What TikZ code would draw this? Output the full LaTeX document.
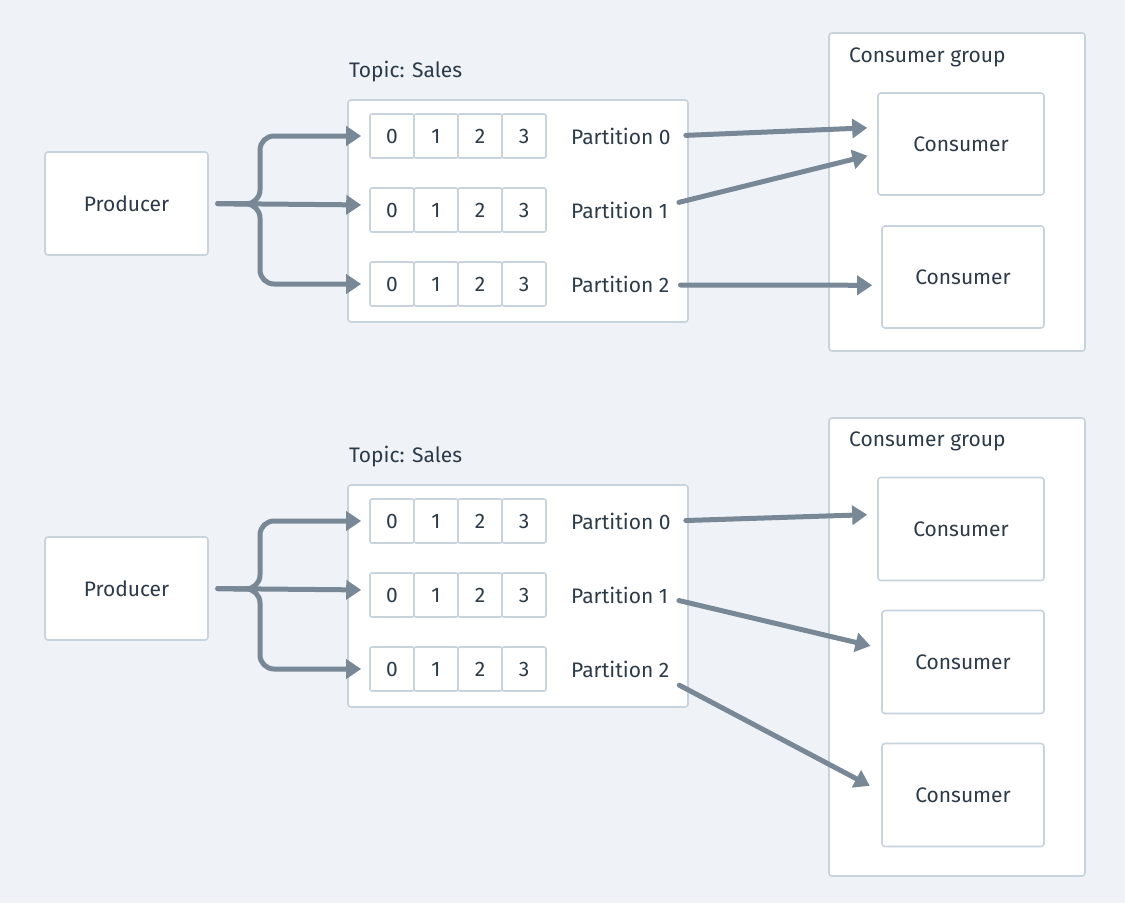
\documentclass[tikz,border=0pt]{standalone}
\usepackage{fontspec}
\setmainfont{Fira Sans}
\usetikzlibrary{arrows.meta,calc}
\definecolor{bgc}{HTML}{EFF3F7}
\definecolor{edgec}{HTML}{C9D3DD}
\definecolor{arrc}{HTML}{798896}
\definecolor{txtc}{HTML}{2D3A48}
\newcommand\kafkahalf[2]{%
\begin{scope}[yshift=-#2pt]
\node[box, minimum width=163pt, minimum height=103pt] (#1prod) at (126.5,203.5) {Producer};
\node[lbl, anchor=west] (#1tl) at (349,72) {Topic: Sales};
\node[box, minimum width=340pt, minimum height=222pt] (#1topic) at (518,211) {};
\foreach \r/\y in {0/136,1/210,2/284}{
  \foreach \c/\x in {0/392,1/436,2/480,3/524}{
    \node[cell] (#1c\r\c) at (\x,\y) {\c};
  }
  \node[lbl, anchor=west] (#1p\r) at (571,\y) {Partition \r};
}
\coordinate (#1fork) at (260,204);
\draw[arr, rounded corners=14pt, shorten <=9pt, shorten >=8pt] (#1prod.east) -- (#1fork) |- (#1c00.west);
\draw[arr, rounded corners=14pt, shorten <=9pt, shorten >=8pt] (#1prod.east) -- (#1fork) |- (#1c20.west);
\draw[arr, shorten <=9pt, shorten >=8pt] (#1prod.east) -- ([yshift=5pt]#1c10.west);
\end{scope}}
\begin{document}
\begin{tikzpicture}[x=1pt,y=-1pt,
 box/.style={draw=edgec, fill=white, line width=1.6pt, rounded corners=3pt, inner sep=0pt, text=txtc, font=\fontsize{21}{24}\selectfont},
 cell/.style={box, minimum width=44pt, minimum height=44pt, rounded corners=2pt},
 lbl/.style={text=txtc, font=\fontsize{21}{24}\selectfont, inner sep=0pt},
 arr/.style={draw=arrc, line width=5pt, -{Triangle[length=15pt,width=19pt]}, line cap=round},
]
\fill[bgc] (0,0) rectangle (1125,903);
\useasboundingbox (0,0) rectangle (1125,903);
% consumer groups (drawn first)
\node[box, minimum width=256pt, minimum height=318pt] (tg) at (957,192) {};
\node[lbl, anchor=west] (tgl) at (849,57) {Consumer group};
\node[box, minimum width=166pt, minimum height=102pt] (tc1) at (961,144) {Consumer};
\node[box, minimum width=162pt, minimum height=102pt] (tc2) at (963,277) {Consumer};

\node[box, minimum width=256pt, minimum height=458pt] (bg) at (957,647) {};
\node[lbl, anchor=west] (bgl) at (849,441) {Consumer group};
\node[box, minimum width=166pt, minimum height=103pt] (bc1) at (961,529) {Consumer};
\node[box, minimum width=162pt, minimum height=103pt] (bc2) at (963,662) {Consumer};
\node[box, minimum width=162pt, minimum height=103pt] (bc3) at (963,795) {Consumer};

\kafkahalf{t}{0}
\kafkahalf{b}{385}

% top consumer arrows
\draw[arr, shorten <=15pt, shorten >=10pt] (tp0.east) -- ($(tc1.north west)!0.34!(tc1.south west)$);
\draw[arr, shorten <=11pt, shorten >=10pt] ([yshift=5pt]tp1.east) -- ($(tc1.north west)!0.59!(tc1.south west)$);
\draw[arr, shorten <=11pt, shorten >=9pt] ([yshift=-1pt]tp2.east) -- ($(tc2.north west)!0.58!(tc2.south west)$);
% bottom consumer arrows
\draw[arr, shorten <=15pt, shorten >=10pt] (bp0.east) -- ($(bc1.north west)!0.36!(bc1.south west)$);
\draw[arr, shorten <=11pt, shorten >=11pt] ([yshift=-3pt]bp1.east) -- ($(bc2.north west)!0.37!(bc2.south west)$);
\draw[arr, shorten <=11pt, shorten >=13pt] ([yshift=-11pt]bp2.east) -- ($(bc3.north west)!0.47!(bc3.south west)$);
\end{tikzpicture}
\end{document}
